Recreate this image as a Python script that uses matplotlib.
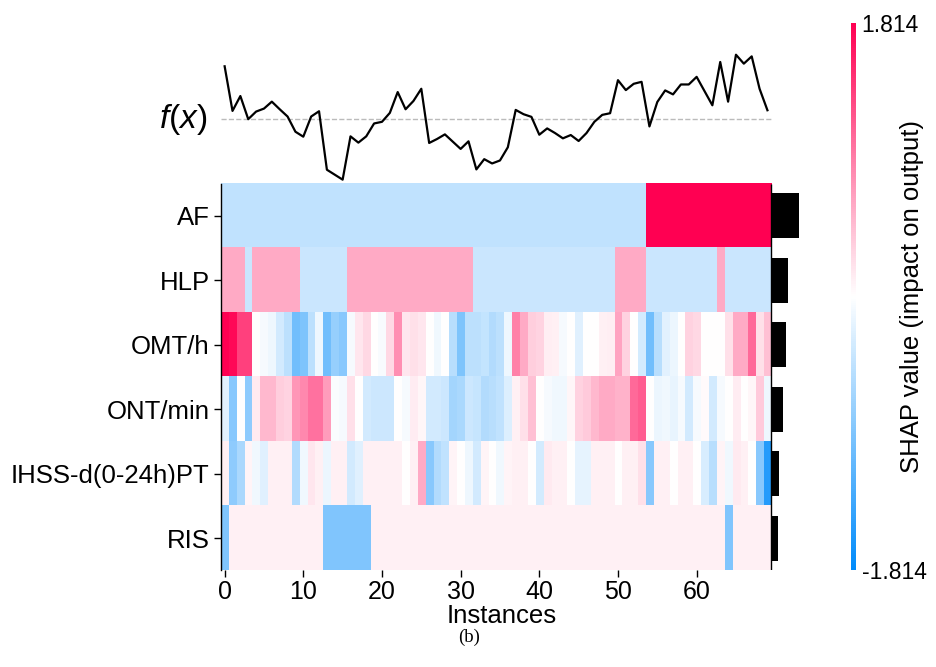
import numpy as np
import matplotlib
matplotlib.use("Agg")
import matplotlib.pyplot as plt
from matplotlib.colors import LinearSegmentedColormap, Normalize
from matplotlib.cm import ScalarMappable

plt.rcParams['font.family'] = ['Liberation Sans', 'DejaVu Sans']
plt.rcParams['mathtext.fontset'] = 'custom'
plt.rcParams['mathtext.it'] = 'Liberation Sans:italic'
plt.rcParams['mathtext.rm'] = 'Liberation Sans'

features = ['AF', 'HLP', 'OMT/h', 'ONT/min', 'IHSS-d(0-24h)PT', 'RIS']
vmax = 1.814

fx = [1.60, 0.25, 0.70, 0.00, 0.23, 0.32, 0.53, 0.30, 0.08, -0.38,
      -0.53, 0.08, 0.24, -1.53, -1.68, -1.83, -0.52, -0.71, -0.52, -0.13,
      -0.08, 0.19, 0.82, 0.30, 0.55, 0.92, -0.72, -0.60, -0.46, -0.68,
      -0.90, -0.67, -1.52, -1.21, -1.34, -1.25, -0.85, 0.28, 0.15, 0.07,
      -0.47, -0.28, -0.42, -0.58, -0.48, -0.66, -0.42, -0.08, 0.13, 0.18,
      1.18, 0.88, 1.07, 1.13, -0.22, 0.52, 0.87, 0.75, 1.05, 1.05,
      1.28, 0.85, 0.42, 1.73, 0.53, 1.95, 1.68, 1.90, 0.92, 0.27]

# SHAP values, one list per feature (70 instances)
af = [-0.45, -0.45, -0.45, -0.45, -0.45, -0.45, -0.45, -0.45, -0.45, -0.45,
      -0.45, -0.45, -0.45, -0.45, -0.45, -0.45, -0.45, -0.45, -0.45, -0.45,
      -0.45, -0.45, -0.45, -0.45, -0.45, -0.45, -0.45, -0.45, -0.45, -0.45,
      -0.45, -0.45, -0.45, -0.45, -0.45, -0.45, -0.45, -0.45, -0.45, -0.45,
      -0.45, -0.45, -0.45, -0.45, -0.45, -0.45, -0.45, -0.45, -0.45, -0.45,
      -0.45, -0.45, -0.45, -0.45, 1.85, 1.85, 1.85, 1.85, 1.85, 1.85,
      1.85, 1.85, 1.85, 1.85, 1.85, 1.85, 1.85, 1.85, 1.85, 1.85]

hlp = [0.6, 0.6, 0.6, -0.38, 0.6, 0.6, 0.6, 0.6, 0.6, 0.6,
       -0.38, -0.38, -0.38, -0.38, -0.38, -0.38, 0.6, 0.6, 0.6, 0.6,
       0.6, 0.6, 0.6, 0.6, 0.6, 0.6, 0.6, 0.6, 0.6, 0.6,
       0.6, 0.6, -0.38, -0.38, -0.38, -0.38, -0.38, -0.38, -0.38, -0.38,
       -0.38, -0.38, -0.38, -0.38, -0.38, -0.38, -0.38, -0.38, -0.38, -0.38,
       0.6, 0.6, 0.6, 0.6, -0.38, -0.38, -0.38, -0.38, -0.38, -0.38,
       -0.38, -0.38, -0.38, 0.6, -0.38, -0.38, -0.38, -0.38, -0.38, -0.38]

omt = [1.8, 1.75, 1.35, 1.35, 0.0, -0.06, -0.12, -0.32, -0.48, -1.0,
       -0.92, -0.48, -0.12, -1.0, -0.75, -0.85, -0.06, 0.18, 0.28, 0.0,
       -0.05, 0.28, 0.8, 0.18, 0.22, 0.18, 0.0, -0.1, 0.0, -0.5,
       -0.92, -0.48, -0.48, -0.42, -0.55, -0.48, -0.12, 0.9, 0.6, 0.35,
       0.3, 0.12, 0.1, -0.06, 0.0, -0.22, 0.0, 0.0, 0.1, 0.12,
       0.65, 0.32, 0.0, -0.3, -1.0, -0.5, -0.2, -0.14, 0.0, 0.32,
       0.28, 0.0, 0.0, 0.0, 0.22, 0.6, 0.6, 1.05, 0.22, 0.45]

ont = [-0.2, -0.85, 0.0, -0.8, 0.15, 0.5, 0.5, 0.35, 0.3, 0.75,
       0.85, 1.0, 1.0, 0.7, -0.04, -0.06, 0.22, 0.0, -0.32, -0.36,
       -0.36, -0.36, 0.0, -0.06, 0.14, 0.06, -0.32, -0.32, -0.36, -0.65,
       -0.6, -0.36, -0.4, -0.55, -0.5, -0.45, -0.25, 0.1, 0.22, 0.45,
       0.0, -0.06, -0.1, -0.1, 0.06, 0.32, 0.38, 0.5, 0.6, 0.6,
       0.55, 0.55, 1.05, 1.15, 0.0, -0.14, -0.1, -0.16, -0.06, -0.32,
       -0.06, 0.03, -0.32, -0.06, 0.0, 0.14, 0.0, 0.06, 0.38, -0.12]

ihss = [0.1, -0.8, -0.6, 0.08, -0.1, -0.22, 0.1, 0.1, 0.1, -0.55,
        -0.1, 0.18, 0.1, -0.14, 0.1, 0.1, -0.32, -0.22, 0.1, 0.1,
        0.1, 0.1, 0.1, 0.0, 0.1, 0.6, -0.85, -0.55, -0.45, 0.08,
        0.0, -0.12, -0.32, 0.08, 0.0, -0.1, 0.08, 0.1, 0.1, 0.0,
        -0.3, 0.15, 0.1, 0.1, 0.0, -0.18, -0.18, 0.1, 0.1, 0.1,
        0.0, 0.1, 0.1, 0.22, -0.85, 0.1, 0.1, 0.0, 0.1, 0.1,
        0.0, -0.28, -0.5, 0.08, -0.1, 0.15, 0.1, 0.0, -0.85, -1.55]

ris = [-0.9, 0.1, 0.1, 0.1, 0.1, 0.1, 0.1, 0.1, 0.1, 0.1,
       0.1, 0.1, 0.1, -0.9, -0.9, -0.9, -0.9, -0.9, -0.9, 0.1,
       0.1, 0.1, 0.1, 0.1, 0.1, 0.1, 0.1, 0.1, 0.1, 0.1,
       0.1, 0.1, 0.1, 0.1, 0.1, 0.1, 0.1, 0.1, 0.1, 0.1,
       0.1, 0.1, 0.1, 0.1, 0.1, 0.1, 0.1, 0.1, 0.1, 0.1,
       0.1, 0.1, 0.1, 0.1, 0.1, 0.1, 0.1, 0.1, 0.1, 0.1,
       0.1, 0.1, 0.1, 0.1, -0.9, 0.1, 0.1, 0.1, 0.1, 0.1]

values = np.array([af, hlp, omt, ont, ihss, ris])
n = values.shape[1]
nf = values.shape[0]
fx = np.array(fx)

cmap = LinearSegmentedColormap.from_list(
    'red_white_blue', ['#008bfb', '#ffffff', '#ff0052'])

W, H = 936, 667
fig = plt.figure(figsize=(W / 100, H / 100), dpi=100)
left_px, right_px = 220.7, 810.7
top_px, bot_px = 22.5, 570.3
ax = fig.add_axes([left_px / W, 1 - bot_px / H,
                   (right_px - left_px) / W, (bot_px - top_px) / H])

ax.imshow(values, aspect='auto', interpolation='nearest', cmap=cmap,
          vmin=-vmax, vmax=vmax, extent=(-0.5, n - 0.5, nf - 0.5, -0.5))

# f(x) line above the heatmap
ax.hlines(-1.5, -0.5, n - 0.5, color='#bbbbbb', linestyle='--', linewidth=1)
ax.plot(np.arange(n), -fx / np.abs(fx).max() - 1.5, color='#000000',
        linewidth=1.6)
ax.text(-2.2, -1.5, '$f(x)$', ha='right', va='center', fontsize=24)

# feature importance bars on the right
imp = np.abs(values).mean(1)
ax.barh(np.arange(nf), imp / imp.max() * n / 20, 0.7, left=n - 0.5,
        color='#000000', align='center')
ax.vlines(n - 0.5, -0.5, nf - 0.5, color='#000000', linewidth=1)

ax.set_xlim(-0.5, 74.5)
ax.set_ylim(nf - 0.5, -3.0)
for s in ['top', 'right', 'bottom']:
    ax.spines[s].set_visible(False)
ax.spines['left'].set_bounds(-0.5, nf - 0.5)
ax.spines['left'].set_linewidth(1)

ax.set_yticks(np.arange(nf))
ax.set_yticklabels(features, fontsize=18.5)
ax.set_xticks(np.arange(0, n, 10))
ax.tick_params(axis='both', length=5, width=1)
ax.tick_params(axis='y', labelsize=18.5, pad=3)
ax.tick_params(axis='x', labelsize=18, pad=2)
ax.set_xlabel('Instances', fontsize=18.5)
ax.xaxis.set_label_coords((502 - left_px) / (right_px - left_px), -0.062)

# colorbar
cax = fig.add_axes([851 / W, 1 - bot_px / H, 5 / W, (bot_px - top_px) / H])
sm = ScalarMappable(norm=Normalize(-vmax, vmax), cmap=cmap)
cb = fig.colorbar(sm, cax=cax, ticks=[-vmax, vmax])
cb.set_ticklabels(['-1.814', '1.814'])
cb.outline.set_visible(False)
cax.tick_params(length=0, labelsize=16.5, pad=4)
cb.set_label('SHAP value (impact on output)', fontsize=18.5, labelpad=-19)

fig.text(469 / W, 1 - 637 / H, '(b)', ha='center', va='center',
         fontsize=13.5, family='Liberation Serif')

fig.savefig('out.png', dpi=100)
